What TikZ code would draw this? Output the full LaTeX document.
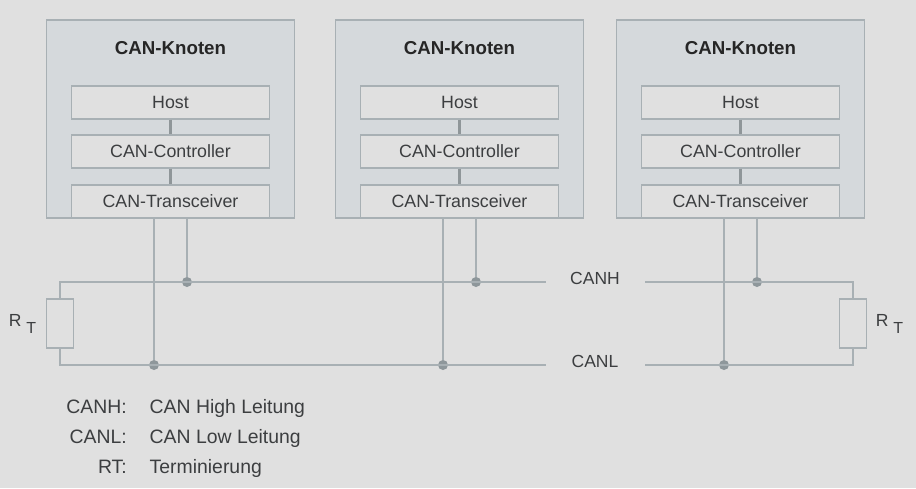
\documentclass[tikz,border=0pt]{standalone}
\usepackage{fontspec}
\setmainfont{Liberation Sans}
\usepackage{xcolor}
\definecolor{Backdrop}{RGB}{224,224,224}
\definecolor{Knoten}{RGB}{213,217,220}
\definecolor{Rand}{RGB}{168,176,180}
\definecolor{Punkt}{RGB}{142,151,155}
\definecolor{Schrift}{RGB}{60,62,64}

\tikzset{
  knotenbox/.style={draw=Rand, fill=Knoten, line width=1.2pt, minimum width=247.6pt, minimum height=198pt, inner sep=0pt},
  innerbox/.style={draw=Rand, fill=Backdrop, line width=1.2pt, minimum width=198pt, minimum height=33pt, inner sep=0pt, text=Schrift, font=\fontsize{17.8}{18}\selectfont, text height=12.8pt, text depth=0pt},
  titel/.style={font=\fontsize{18.7}{19}\selectfont\bfseries, text=black!85, text height=13.4pt, text depth=0pt},
  wire/.style={draw=Rand, line width=1.2pt},
  stem/.style={draw=Rand!85!black, line width=3pt},
  junction/.style={circle, fill=Punkt, minimum size=10pt, inner sep=0pt},
  widerstand/.style={draw=Rand, line width=1.2pt, minimum width=26.5pt, minimum height=49pt, inner sep=0pt},
  txt/.style={text=Schrift, font=\fontsize{17.5}{18}\selectfont, inner sep=0pt, text height=12.6pt, text depth=0pt},
  legende/.style={txt, font=\fontsize{19.4}{20}\selectfont, text height=14pt},
}

\begin{document}
\begin{tikzpicture}[x=1pt,y=-1pt]
\fill[Backdrop] (0,0) rectangle (916,488);
\useasboundingbox (0,0) rectangle (916,488);

% Knoten
\foreach \n/\xk/\xl/\xh in {1/170.5/154/187, 2/459.5/443/476, 3/740.5/724/757} {
  \node[knotenbox] (knoten\n) at (\xk,119) {};
  \node[titel] (titel\n) at (\xk,47.5) {CAN-Knoten};
  \node[innerbox] (host\n) at (\xk,102.5) {Host};
  \node[innerbox] (ctrl\n) at (\xk,151.5) {CAN-Controller};
  \node[innerbox] (trans\n) at (\xk,201.5) {CAN-Transceiver};
  \draw[stem] (host\n) -- (ctrl\n);
  \draw[stem] (ctrl\n) -- (trans\n);
  \node[junction] (high\n) at (\xh,282) {};
  \node[junction] (low\n) at (\xl,365) {};
  \draw[wire] (trans\n.south -| high\n) -- (high\n);
  \draw[wire] (trans\n.south -| low\n) -- (low\n);
}

% Abschlusswiderstaende
\node[widerstand] (rleft) at (60,323.5) {};
\node[widerstand] (rright) at (853,323.5) {};
\node[txt] (rtleft) at (22.5,320.5) {R\hspace{5pt}\raisebox{-7pt}{\fontsize{16}{16}\selectfont T}};
\node[txt] (rtright) at (889.5,320.5) {R\hspace{5pt}\raisebox{-7pt}{\fontsize{16}{16}\selectfont T}};

% Bus
\node[txt] (canh) at (595,278) {CANH};
\node[txt] (canl) at (595,361) {CANL};
\coordinate (hgapl) at (546,282);
\coordinate (hgapr) at (645,282);
\coordinate (lgapl) at (546,365);
\coordinate (lgapr) at (645,365);
\draw[wire] (rleft.north) |- (hgapl);
\draw[wire] (rleft.south) |- (lgapl);
\draw[wire] (rright.north) |- (hgapr);
\draw[wire] (rright.south) |- (lgapr);

% Legende
\node[legende, anchor=east] (key1) at (127,406) {CANH:};
\node[legende, anchor=east] (key2) at (127,436) {CANL:};
\node[legende, anchor=east] (key3) at (127,466) {RT:};
\node[legende, anchor=west] (val1) at (149.5,406) {CAN High Leitung};
\node[legende, anchor=west] (val2) at (149.5,436) {CAN Low Leitung};
\node[legende, anchor=west] (val3) at (149.5,466) {Terminierung};
\end{tikzpicture}
\end{document}
